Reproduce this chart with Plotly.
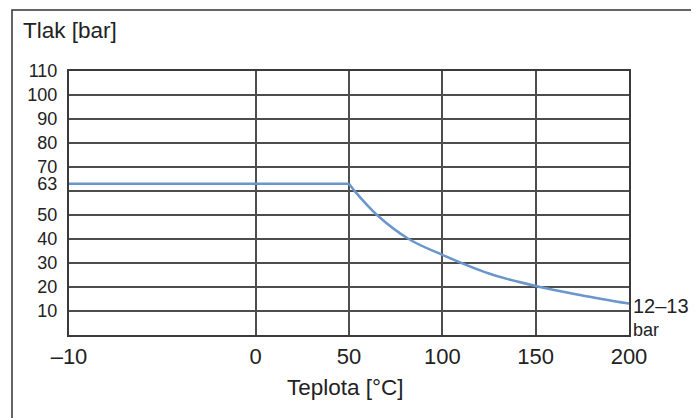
import numpy as np
import plotly.graph_objects as go

# Data
temp_flat = [-10, 50]
press_flat = [63, 63]
temp_curve = [50, 53, 65, 82, 100, 125, 150, 175, 200]
press_curve = [63, 60, 50, 40, 33.4, 25.6, 20.4, 16.5, 13.1]

x_tick_labels = ["\u201310", "0", "50", "100", "150", "200"]
x_tick_temps = [-10, 0, 50, 100, 150, 200]
y_tick_vals = [10, 20, 30, 40, 50, 63, 70, 80, 90, 100, 110]
y_grid_vals = list(range(10, 111, 10))

# Non-uniform temperature scale of the chart (-10..0 spans two divisions)
scale_temps = [-10, 0, 50, 100, 150, 200]
scale_units = [0, 2, 3, 4, 5, 6]


def tx(t):
    return np.interp(t, scale_temps, scale_units)


BLUE = "#6b96cb"
GRID = "#4d4d4d"
TXT = "#222222"
FONT = "Liberation Sans, Arial, sans-serif"

fig = go.Figure()
fig.add_trace(go.Scatter(x=tx(temp_flat), y=press_flat, mode="lines",
                         line=dict(color=BLUE, width=2.5), hoverinfo="skip"))
fig.add_trace(go.Scatter(x=tx(temp_curve), y=press_curve, mode="lines",
                         line=dict(color=BLUE, width=2.5, shape="spline", smoothing=1.0),
                         hoverinfo="skip"))

fig.update_layout(
    width=699, height=418,
    margin=dict(l=61, r=78, t=63, b=91),
    paper_bgcolor="white", plot_bgcolor="white",
    showlegend=False,
    font=dict(family=FONT, color=TXT),
    xaxis=dict(
        range=[0, 6], tickmode="array", tickvals=tx(x_tick_temps), ticktext=x_tick_labels,
        showgrid=True, gridcolor=GRID, gridwidth=1.5, zeroline=False,
        showline=True, mirror=True, linecolor="#3a3a3a", linewidth=2,
        ticks="", ticklabelstandoff=1, tickfont=dict(size=22, color=TXT, family=FONT),
    ),
    yaxis=dict(
        range=[0, 110], tickmode="array", tickvals=y_tick_vals,
        showgrid=False, zeroline=False,
        showline=True, mirror=True, linecolor="#3a3a3a", linewidth=2,
        ticks="", ticklabelstandoff=6, tickfont=dict(size=18, color=TXT, family=FONT),
        minor=dict(tickvals=y_grid_vals, showgrid=True, gridcolor=GRID, gridwidth=1.5, ticks=""),
    ),
)

fig.add_annotation(text="Tlak [bar]", xref="paper", yref="paper", x=-0.086, y=1.155,
                   xanchor="left", yanchor="middle", showarrow=False,
                   font=dict(size=22.5, color=TXT, family=FONT))
fig.add_annotation(text="Teplota [°C]", xref="paper", yref="paper", x=0.493, y=-0.198,
                   xanchor="center", yanchor="middle", showarrow=False,
                   font=dict(size=22.5, color=TXT, family=FONT))
fig.add_annotation(text="12\u201313", x=6, y=press_curve[-1], xanchor="left", yanchor="middle",
                   xshift=2, yshift=-2, showarrow=False,
                   font=dict(size=20, color=TXT, family=FONT))
fig.add_annotation(text="bar", x=6, y=press_curve[-1], xanchor="left", yanchor="middle",
                   xshift=2, yshift=-26, showarrow=False,
                   font=dict(size=18, color=TXT, family=FONT))

# outer frame of the figure
fig.add_shape(type="rect", xref="paper", yref="paper", x0=-0.1018, x1=1.3, y0=-0.5, y1=1.2313,
              line=dict(color="#333333", width=1.5), layer="below")

fig.write_html("out.html")
